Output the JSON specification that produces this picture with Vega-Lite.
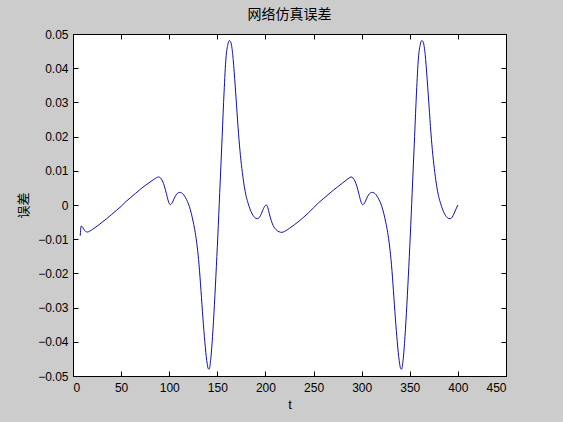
{
  "$schema": "https://vega.github.io/schema/vega-lite/v6.json",
  "width": 433,
  "height": 342,
  "autosize": {"type": "none"},
  "padding": {"left": 73, "top": 34, "right": 57, "bottom": 46},
  "background": "#cccccc",
  "title": {"text": "网络仿真误差", "font": "Noto Sans CJK SC", "fontSize": 14, "fontWeight": "normal", "color": "#000000", "offset": 6, "anchor": "middle"},
  "config": {
    "view": {"fill": "#ffffff", "stroke": "#000000", "strokeWidth": 1},
    "axis": {"grid": false, "domainColor": "#000000", "tickColor": "#000000", "labelColor": "#000000", "labelFont": "Liberation Sans", "labelFontSize": 12, "tickSize": -5, "titleColor": "#000000", "titleFontWeight": "normal"}
  },
  "data": {"values": [
    {"t": 7.5, "e": -0.0090}, {"t": 8.5, "e": -0.0062}, {"t": 9.5, "e": -0.0063}, {"t": 11, "e": -0.0070}, {"t": 13, "e": -0.0077}, {"t": 15, "e": -0.0079}, {"t": 17, "e": -0.0077}, {"t": 20, "e": -0.0072}, {"t": 25, "e": -0.0062}, {"t": 30, "e": -0.0051}, {"t": 35, "e": -0.0040}, {"t": 40, "e": -0.0028}, {"t": 45, "e": -0.0016}, {"t": 50, "e": -0.0004}, {"t": 55, "e": 0.0010}, {"t": 60, "e": 0.0022}, {"t": 65, "e": 0.0034}, {"t": 70, "e": 0.0046}, {"t": 75, "e": 0.0057}, {"t": 80, "e": 0.0067}, {"t": 84, "e": 0.0075}, {"t": 87, "e": 0.0080}, {"t": 89, "e": 0.0082}, {"t": 91, "e": 0.0079}, {"t": 93, "e": 0.0070}, {"t": 95, "e": 0.0055}, {"t": 97, "e": 0.0034}, {"t": 99, "e": 0.0012}, {"t": 101, "e": 0.0001}, {"t": 103, "e": 0.0006}, {"t": 105, "e": 0.0018}, {"t": 107, "e": 0.0029}, {"t": 109, "e": 0.0035}, {"t": 111, "e": 0.0037}, {"t": 113, "e": 0.0035}, {"t": 115, "e": 0.0030}, {"t": 117, "e": 0.0021}, {"t": 119, "e": 0.0010}, {"t": 121, "e": -0.0005}, {"t": 123, "e": -0.0025}, {"t": 125, "e": -0.0050}, {"t": 127, "e": -0.0080}, {"t": 129, "e": -0.0120}, {"t": 131, "e": -0.0175}, {"t": 133, "e": -0.0250}, {"t": 135, "e": -0.0330}, {"t": 137, "e": -0.0400}, {"t": 139, "e": -0.0455}, {"t": 140.5, "e": -0.0478}, {"t": 141.5, "e": -0.0480}, {"t": 143, "e": -0.0455}, {"t": 145, "e": -0.0385}, {"t": 147, "e": -0.0290}, {"t": 149, "e": -0.0180}, {"t": 151, "e": -0.0060}, {"t": 153, "e": 0.0070}, {"t": 155, "e": 0.0200}, {"t": 157, "e": 0.0330}, {"t": 159, "e": 0.0430}, {"t": 161, "e": 0.0470}, {"t": 162.5, "e": 0.0481}, {"t": 164, "e": 0.0476}, {"t": 166, "e": 0.0440}, {"t": 168, "e": 0.0370}, {"t": 170, "e": 0.0290}, {"t": 172, "e": 0.0210}, {"t": 174, "e": 0.0145}, {"t": 176, "e": 0.0095}, {"t": 178, "e": 0.0055}, {"t": 180, "e": 0.0025}, {"t": 182, "e": 0.0005}, {"t": 184, "e": -0.0012}, {"t": 186, "e": -0.0025}, {"t": 188, "e": -0.0034}, {"t": 190, "e": -0.0039}, {"t": 192, "e": -0.0040}, {"t": 194, "e": -0.0035}, {"t": 196, "e": -0.0024}, {"t": 198, "e": -0.0010}, {"t": 200, "e": -0.0001}, {"t": 201, "e": 0.0000}, {"t": 202.5, "e": -0.0008}, {"t": 204, "e": -0.0025}, {"t": 206, "e": -0.0045}, {"t": 208, "e": -0.0060}, {"t": 211, "e": -0.0072}, {"t": 214, "e": -0.0078}, {"t": 217, "e": -0.0080}, {"t": 220, "e": -0.0077}, {"t": 225, "e": -0.0068}, {"t": 230, "e": -0.0058}, {"t": 235, "e": -0.0047}, {"t": 240, "e": -0.0035}, {"t": 245, "e": -0.0022}, {"t": 250, "e": -0.0008}, {"t": 255, "e": 0.0006}, {"t": 260, "e": 0.0018}, {"t": 265, "e": 0.0030}, {"t": 270, "e": 0.0042}, {"t": 275, "e": 0.0053}, {"t": 280, "e": 0.0064}, {"t": 284, "e": 0.0073}, {"t": 287, "e": 0.0079}, {"t": 289, "e": 0.0082}, {"t": 291, "e": 0.0079}, {"t": 293, "e": 0.0070}, {"t": 295, "e": 0.0055}, {"t": 297, "e": 0.0034}, {"t": 299, "e": 0.0012}, {"t": 301, "e": 0.0001}, {"t": 303, "e": 0.0006}, {"t": 305, "e": 0.0018}, {"t": 307, "e": 0.0029}, {"t": 309, "e": 0.0035}, {"t": 311, "e": 0.0037}, {"t": 313, "e": 0.0035}, {"t": 315, "e": 0.0030}, {"t": 317, "e": 0.0021}, {"t": 319, "e": 0.0010}, {"t": 321, "e": -0.0005}, {"t": 323, "e": -0.0025}, {"t": 325, "e": -0.0050}, {"t": 327, "e": -0.0080}, {"t": 329, "e": -0.0120}, {"t": 331, "e": -0.0175}, {"t": 333, "e": -0.0250}, {"t": 335, "e": -0.0330}, {"t": 337, "e": -0.0400}, {"t": 339, "e": -0.0455}, {"t": 340.5, "e": -0.0478}, {"t": 341.5, "e": -0.0480}, {"t": 343, "e": -0.0455}, {"t": 345, "e": -0.0385}, {"t": 347, "e": -0.0290}, {"t": 349, "e": -0.0180}, {"t": 351, "e": -0.0060}, {"t": 353, "e": 0.0070}, {"t": 355, "e": 0.0200}, {"t": 357, "e": 0.0330}, {"t": 359, "e": 0.0430}, {"t": 361, "e": 0.0470}, {"t": 362.5, "e": 0.0481}, {"t": 364, "e": 0.0476}, {"t": 366, "e": 0.0440}, {"t": 368, "e": 0.0370}, {"t": 370, "e": 0.0290}, {"t": 372, "e": 0.0210}, {"t": 374, "e": 0.0145}, {"t": 376, "e": 0.0095}, {"t": 378, "e": 0.0055}, {"t": 380, "e": 0.0025}, {"t": 382, "e": 0.0005}, {"t": 384, "e": -0.0012}, {"t": 386, "e": -0.0025}, {"t": 388, "e": -0.0034}, {"t": 390, "e": -0.0039}, {"t": 392, "e": -0.0040}, {"t": 394, "e": -0.0036}, {"t": 396, "e": -0.0025}, {"t": 398, "e": -0.0012}, {"t": 400, "e": 0.0000}
  ]},
  "layer": [
    {
      "mark": {"type": "line", "color": "#1010a0", "strokeWidth": 1, "interpolate": "monotone"},
      "encoding": {
        "x": {"field": "t", "type": "quantitative", "scale": {"domain": [0, 450], "nice": false, "zero": false},
              "axis": {"orient": "bottom", "values": [0, 50, 100, 150, 200, 250, 300, 350, 400, 450], "title": "t", "titleFont": "Liberation Sans", "titleFontSize": 13, "titlePadding": 5, "labelPadding": 11}},
        "y": {"field": "e", "type": "quantitative", "scale": {"domain": [-0.05, 0.05], "nice": false, "zero": false},
              "axis": {"orient": "left", "values": [-0.05, -0.04, -0.03, -0.02, -0.01, 0, 0.01, 0.02, 0.03, 0.04, 0.05], "format": "~g", "title": "误差", "titleFont": "Noto Sans CJK SC", "titleFontSize": 13, "titlePadding": 7, "labelPadding": 10}}
      }
    },
    {
      "mark": {"type": "line", "opacity": 0, "interpolate": "monotone"},
      "encoding": {
        "x": {"field": "t", "type": "quantitative", "scale": {"domain": [0, 450], "nice": false, "zero": false},
              "axis": {"orient": "top", "values": [0, 50, 100, 150, 200, 250, 300, 350, 400, 450], "labels": false, "title": null}},
        "y": {"field": "e", "type": "quantitative", "scale": {"domain": [-0.05, 0.05], "nice": false, "zero": false},
              "axis": {"orient": "right", "values": [-0.05, -0.04, -0.03, -0.02, -0.01, 0, 0.01, 0.02, 0.03, 0.04, 0.05], "labels": false, "title": null}}
      }
    }
  ],
  "resolve": {"axis": {"x": "independent", "y": "independent"}}
}
